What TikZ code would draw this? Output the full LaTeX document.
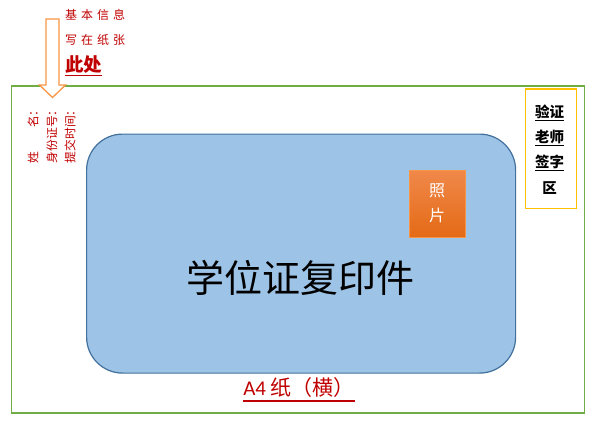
\documentclass[tikz,border=0pt]{standalone}
\usepackage{fontspec}
\setmainfont{Noto Sans CJK SC}
\newfontfamily\latinfont{Carlito}
\usetikzlibrary{shapes.geometric}
\definecolor{darkred}{HTML}{C00000}
\definecolor{pagegreen}{HTML}{70AD47}
\definecolor{arroworange}{HTML}{F79646}
\definecolor{bluefill}{HTML}{9DC3E6}
\definecolor{blueborder}{HTML}{41719C}
\definecolor{signyellow}{HTML}{FFC000}
\definecolor{phototop}{HTML}{F0884A}
\definecolor{photobot}{HTML}{E46A15}
\tikzset{
  redtxt/.style={text=darkred, inner sep=0pt, font=\fontsize{11.8}{13}\selectfont},
  verttxt/.style={redtxt, rotate=90, anchor=east},
  signline/.style={inner sep=0pt, font=\fontsize{14.5}{16}\selectfont\bfseries},
}
\begin{document}
\begin{tikzpicture}[x=1pt,y=-1pt]
\useasboundingbox (0,0) rectangle (593,425);
% page
\node[draw=pagegreen, line width=1.8pt, minimum width=573pt, minimum height=327pt, inner sep=0pt, anchor=north west] (page) at (10.5,85) {};
% certificate
\node[draw=blueborder, line width=1.2pt, fill=bluefill, rounded corners=36pt, minimum width=429pt, minimum height=239pt, inner sep=0pt, anchor=north west] (cert) at (86,133.5) {};
\node[font=\fontsize{38}{40}\selectfont, inner sep=0pt] (certtxt) at (300,278) {学位证复印件};
% photo
\node[draw=arroworange, line width=0.8pt, top color=phototop, bottom color=photobot, minimum width=56pt, minimum height=67pt, inner sep=0pt, anchor=north west] (photo) at (409,170) {};
\node[text=white, font=\fontsize{16}{25}\selectfont, align=center, inner sep=0pt] (phototxt) at (437,203) {照\\片};
% signature box
\node[draw=signyellow, line width=1.8pt, minimum width=51pt, minimum height=119pt, inner sep=0pt, anchor=north west] (sign) at (524.5,88.5) {};
\node[signline] (s1) at (549.5,113) {\underline{验证}};
\node[signline] (s2) at (549.5,138) {\underline{老师}};
\node[signline] (s3) at (549.5,163) {\underline{签字}};
\node[signline] (s4) at (549.5,188) {区};
% arrow
\draw[arroworange, line width=1.3pt, fill=white, line join=miter]
  (46,19) -- (59,19) -- (59,85) -- (65.5,85) -- (52.5,97.5) -- (39.5,85) -- (46,85) -- cycle;
\coordinate (arrowtip) at (52.5,97.5);
% info texts
\node[redtxt, anchor=west, font=\fontsize{12}{13}\selectfont\addfontfeatures{LetterSpace=33}] (t1) at (65,15) {基本信息};
\node[redtxt, anchor=west, font=\fontsize{12}{13}\selectfont\addfontfeatures{LetterSpace=33}] (t2) at (65,40) {写在纸张};
\node[redtxt, anchor=west, font=\fontsize{18.5}{20}\selectfont\bfseries] (t3) at (65,66) {\underline{此处}};
% vertical texts
\node[verttxt] (v1) at (33,104) {姓\hspace{2em}名：};
\node[verttxt] (v2) at (52,104) {身份证号：};
\node[verttxt] (v3) at (70,104) {提交时间：};
% A4 label
\node[text=darkred, inner sep=0pt, font=\fontsize{21}{22}\selectfont] (a4) at (299,388) {{\latinfont A4} 纸（横）};
\draw[darkred, line width=2pt] ([yshift=-3pt]a4.south west) -- ([yshift=-3pt]a4.south east);
\end{tikzpicture}
\end{document}
